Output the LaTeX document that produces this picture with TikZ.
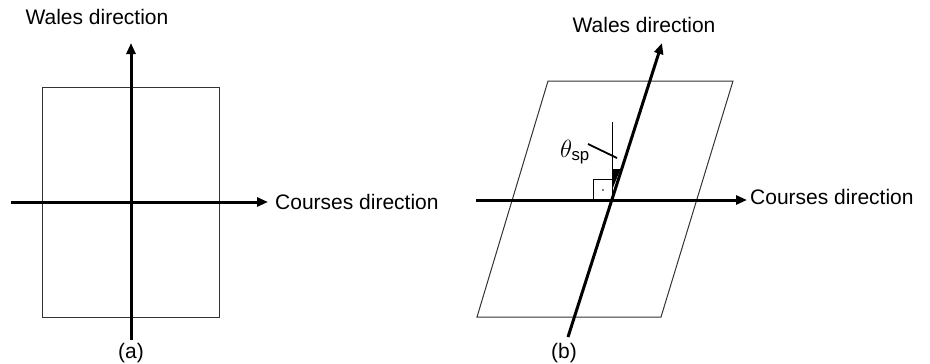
\documentclass[tikz,border=0pt]{standalone}
\usepackage{fontspec}
\setmainfont{Liberation Sans}
\usetikzlibrary{arrows.meta,positioning,calc}
\tikzset{
  axis/.style={-{Triangle[length=11pt,width=9pt]}, line width=3pt},
  fabric/.style={draw, line width=1pt, black!80},
  thinline/.style={line width=0.8pt},
  lbl/.style={font=\fontsize{21}{24}\selectfont, inner sep=0pt}
}

\begin{document}
\begin{tikzpicture}[x=1pt, y=-1pt]
  \useasboundingbox (0,0) rectangle (930,364);

  % (a) fabric before shear
  \draw[fabric] (42,87) rectangle (219,317);
  \coordinate (aS) at (131,340);
  \coordinate (aN) at (131,43);
  \coordinate (aW) at (11,202);
  \coordinate (aE) at (268,202);
  \draw[axis] (aS) -- (aN);
  \draw[axis] (aW) -- (aE);
  \node[lbl] (walesA) at (97,17) {Wales direction};
  \node[lbl, anchor=west] (coursesA) at (275,202) {Courses direction};
  \node[lbl] (capA) at (131,353) {(a)};

  % (b) sheared fabric
  \draw[fabric] (548,81) -- (733,81) -- (661,317) -- (477,317) -- cycle;
  \coordinate (bO) at (612,200);
  \coordinate (bS) at (568,337);
  \coordinate (bN) at (662,43);
  \coordinate (bW) at (476,200);
  \coordinate (bE) at (747,200);
  \coordinate (bV) at (612,122);
  \draw[thinline] (bV) -- (bO);
  \draw[thinline] (593,179) rectangle (bO);
  \fill (603,190) circle (0.8);
  \fill (612,190) -- (612,169) -- (620.5,169) -- cycle;
  \draw[axis] (bS) -- (bN);
  \draw[axis] (bW) -- (bE);
  \node[font=\fontsize{24}{28}\selectfont, inner sep=0pt] (theta) at (575,152) {$\theta_{\mathrm{sp}}$};
  \coordinate (thetaStart) at (588,144);
  \coordinate (thetaEnd) at (617,158);
  \draw[line width=1.8pt] (thetaStart) -- (thetaEnd);
  \node[lbl] (walesB) at (644,25) {Wales direction};
  \node[lbl, anchor=west] (coursesB) at (750,197) {Courses direction};
  \node[lbl] (capB) at (564,353) {(b)};
\end{tikzpicture}
\end{document}
